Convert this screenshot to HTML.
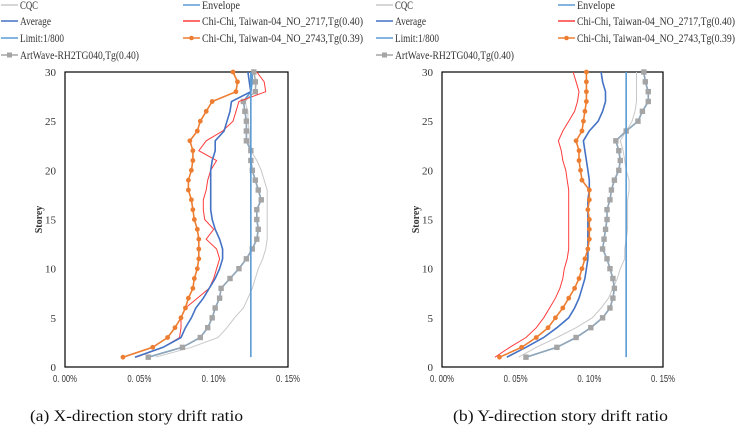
<!DOCTYPE html>
<html><head><meta charset="utf-8">
<style>
html,body{margin:0;padding:0;background:#fff;}
svg{display:block;font-family:"Liberation Serif",serif;}
.tick{font-family:"Liberation Sans",sans-serif;font-size:10px;fill:#333;}
.yt{font-family:"Liberation Serif",serif;font-size:11px;fill:#333;}
.leg{font-size:11.5px;fill:#333;}
</style></head>
<body>
<svg id="chart" width="737" height="426" viewBox="0 0 737 426" xmlns="http://www.w3.org/2000/svg"></svg>
<script>
const storeys = Array.from({length:30},(_, i)=>i+1);
const xTicks = [0,0.05,0.10,0.15];
const xTickLabels = ["0. 00%","0. 05%","0. 10%","0. 15%"];
const yTicks = [0,5,10,15,20,25,30];
const limitValue = 0.125;

const xCQC = [0.061,0.085,0.103,0.109,0.114,0.120,0.123,0.126,0.128,0.130,0.133,0.135,0.136,0.136,0.136,0.136,0.136,0.136,0.134,0.132,0.129,0.125,0.124,0.124,0.123,0.123,0.121,0.128,0.129,0.127];
const xAverage = [0.047,0.066,0.078,0.081,0.085,0.088,0.093,0.097,0.101,0.104,0.106,0.106,0.104,0.101,0.099,0.098,0.098,0.098,0.098,0.098,0.099,0.101,0.101,0.107,0.109,0.111,0.112,0.125,0.124,0.123];
const xRed = [0.048,0.066,0.077,0.078,0.078,0.081,0.089,0.097,0.100,0.102,0.104,0.102,0.095,0.100,0.094,0.093,0.093,0.095,0.096,0.098,0.102,0.090,0.095,0.106,0.113,0.115,0.117,0.135,0.134,0.129];
const xOrange = [0.039,0.059,0.069,0.074,0.078,0.081,0.083,0.086,0.087,0.089,0.090,0.090,0.090,0.089,0.087,0.086,0.085,0.083,0.083,0.085,0.086,0.086,0.084,0.089,0.091,0.095,0.099,0.115,0.116,0.113];
const xArt = [0.056,0.079,0.091,0.096,0.099,0.101,0.104,0.105,0.111,0.117,0.122,0.126,0.129,0.130,0.129,0.129,0.132,0.130,0.128,0.126,0.125,0.125,0.122,0.122,0.122,0.121,0.120,0.128,0.128,0.127];
const xEnvelope = [0.056,0.079,0.091,0.096,0.099,0.101,0.104,0.105,0.111,0.117,0.122,0.126,0.129,0.130,0.129,0.129,0.132,0.130,0.128,0.126,0.125,0.125,0.122,0.122,0.122,0.121,0.120,0.125,0.126,0.126];

const yCQC = [0.052,0.064,0.078,0.091,0.102,0.108,0.113,0.116,0.119,0.121,0.124,0.124,0.125,0.126,0.126,0.126,0.126,0.127,0.127,0.125,0.124,0.123,0.121,0.125,0.129,0.131,0.132,0.132,0.132,0.132];
const yAverage = [0.044,0.057,0.069,0.078,0.086,0.090,0.093,0.095,0.097,0.098,0.099,0.099,0.099,0.099,0.099,0.099,0.099,0.100,0.100,0.099,0.098,0.097,0.096,0.100,0.106,0.109,0.111,0.111,0.109,0.108];
const yRed = [0.036,0.046,0.057,0.064,0.069,0.073,0.077,0.080,0.082,0.083,0.085,0.086,0.086,0.086,0.086,0.086,0.086,0.086,0.085,0.084,0.082,0.081,0.079,0.082,0.086,0.090,0.092,0.093,0.091,0.089];
const yOrange = [0.039,0.054,0.064,0.072,0.077,0.082,0.086,0.090,0.093,0.095,0.097,0.099,0.100,0.100,0.100,0.099,0.100,0.100,0.095,0.094,0.093,0.093,0.091,0.095,0.096,0.097,0.098,0.098,0.098,0.098];
const yArt = [0.057,0.078,0.091,0.101,0.109,0.114,0.116,0.117,0.116,0.114,0.112,0.109,0.110,0.111,0.112,0.112,0.114,0.115,0.117,0.120,0.121,0.120,0.118,0.125,0.133,0.136,0.140,0.140,0.138,0.137];
const yEnvelope = yArt.slice();

const NS="http://www.w3.org/2000/svg";
const svg=document.getElementById('chart');
function el(tag,attrs,parent){const e=document.createElementNS(NS,tag);for(const k in attrs)e.setAttribute(k,attrs[k]);(parent||svg).appendChild(e);return e;}

function legend(x1,x2,prefix,longLen){
  const g=el('g',{});
  
  
  const items=[
    [x1,5,'CQC','#c8c8c8',null,18],[x2,5,'Envelope','#5b9bd5',null,38],
    [x1,21,'Average','#4472c4',null,31],[x2,21,'Chi-Chi, Taiwan-04_NO_2717,Tg(0.40)','#ff3b3b',null,longLen],
    [x1,38,'Limit:1/800','#5b9bd5',null,44],[x2,38,'Chi-Chi, Taiwan-04_NO_2743,Tg(0.39)','#ed7d31','dot',longLen],
    [x1,55,'ArtWave-RH2TG040,Tg(0.40)','#a5a5a5','sq',119]];
  items.forEach(it=>{
    const [x,y,t,c,m,len]=it;
    const e=el('g',{},g);
    
    
    el('line',{x1:x,y1:y,x2:x+17,y2:y,stroke:c,'stroke-width':1.6},e);
    if(m==='dot') el('circle',{cx:x+8.5,cy:y,r:2.3,fill:c},e);
    if(m==='sq') el('rect',{x:x+6,y:y-2.5,width:5,height:5,fill:c},e);
    const tx=el('text',{x:x+19,y:y+4,class:'leg',textLength:len,lengthAdjust:'spacingAndGlyphs'},e); tx.textContent=t;
  });
}

function panel(name,L,R,T,B,series,caption,capX,capLen){
  const g=el('g',{});
  
  
  const sx=v=>L+(v/0.15)*(R-L);
  const sy=s=>B-(s/30)*(B-T);
  const frame=el('rect',{x:L,y:T,width:R-L,height:B-T,fill:'none',stroke:'#000','stroke-width':1.2},g);
  
  
  xTicks.forEach((v,i)=>{
    const t=el('text',{x:sx(v)-12,y:B+15,class:'tick',textLength:24,lengthAdjust:'spacingAndGlyphs'},g);
    
    
    t.textContent=xTickLabels[i];
  });
  yTicks.forEach(v=>{
    const t=el('text',{x:L-9,y:sy(v)+4,'text-anchor':'end',class:'yt'},g);
    
    
    t.textContent=v;
  });
  const yl=el('text',{x:0,y:0,'text-anchor':'middle','font-size':10,'font-weight':'bold',fill:'#333',transform:`translate(${L-23},${(T+B)/2}) rotate(-90)`},g);
  
  
  yl.textContent='Storey';
  series.forEach(s=>{
    const sg=el('g',{},g);
    
    
    const pts=s.vals.map((v,i)=>sx(v).toFixed(1)+','+sy(storeys[i]).toFixed(1)).join(' ');
    el('polyline',{points:pts,fill:'none',stroke:s.color,'stroke-width':s.w},sg);
    s.vals.forEach((v,i)=>{
      if(s.m==='dot') el('circle',{cx:sx(v),cy:sy(storeys[i]),r:2.4,fill:s.color},sg);
      if(s.m==='sq') el('rect',{x:sx(v)-2.7,y:sy(storeys[i])-2.7,width:5.4,height:5.4,fill:s.color},sg);
    });
  });
  const lim=el('line',{x1:sx(limitValue),y1:sy(1),x2:sx(limitValue),y2:sy(30),stroke:'#5b9bd5','stroke-width':1.6},g);
  
  
  const c=el('text',{x:capX,y:421,'font-size':16,fill:'#111',textLength:capLen,lengthAdjust:'spacingAndGlyphs'},g);
  
  
  c.textContent=caption;
}

legend(1,183,'left',161);
legend(376,558,'right',158);

panel('x-direction-chart',65,288,72,367,[
  {name:'cqc-series',vals:xCQC,color:'#c8c8c8',w:1},
  {name:'envelope-series',vals:xEnvelope,color:'#5b9bd5',w:1.6},
  {name:'artwave-series',vals:xArt,color:'#a5a5a5',w:1,m:'sq'},
  {name:'chichi-2717-series',vals:xRed,color:'#ff3b3b',w:1},
  {name:'average-series',vals:xAverage,color:'#4472c4',w:1.6},
  {name:'chichi-2743-series',vals:xOrange,color:'#ed7d31',w:1.6,m:'dot'}
],'(a) X-direction story drift ratio',30,213);

panel('y-direction-chart',442,663,72,367,[
  {name:'cqc-series',vals:yCQC,color:'#c8c8c8',w:1},
  {name:'envelope-series',vals:yEnvelope,color:'#5b9bd5',w:1.6},
  {name:'artwave-series',vals:yArt,color:'#a5a5a5',w:1,m:'sq'},
  {name:'chichi-2717-series',vals:yRed,color:'#ff3b3b',w:1},
  {name:'average-series',vals:yAverage,color:'#4472c4',w:1.6},
  {name:'chichi-2743-series',vals:yOrange,color:'#ed7d31',w:1.6,m:'dot'}
],'(b) Y-direction story drift ratio',453,215);
</script>
</body></html>
